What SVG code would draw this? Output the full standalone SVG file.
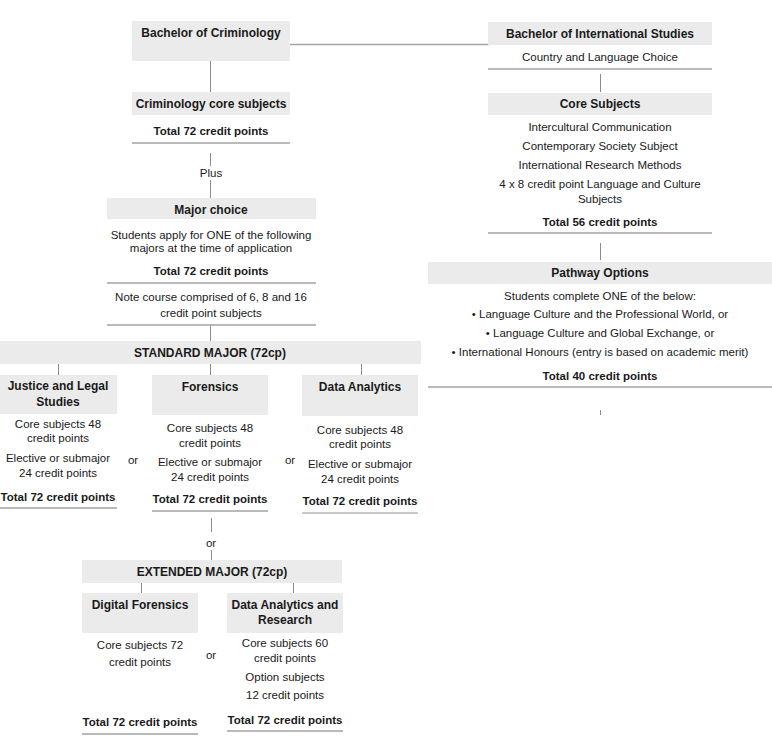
<svg xmlns="http://www.w3.org/2000/svg" width="772" height="745" viewBox="0 0 772 745">
<style>
.box{fill:#ebebeb}
.ln{stroke:#a3a3a3;stroke-width:1.3;fill:none}
.vl{stroke:#8c8c8c;stroke-width:1;fill:none}
text{font-family:"Liberation Sans",Arial,sans-serif;fill:#1a1a1a;text-anchor:middle}
.h{font-weight:bold;font-size:12px}
.t{font-weight:bold;font-size:11.5px}
.r{font-size:11.5px}
</style>
<rect width="772" height="745" fill="#ffffff"/>
<g id="connectors">
<line class="ln" x1="290" y1="44.5" x2="489" y2="44.5"/>
<line class="vl" x1="210.5" y1="61" x2="210.5" y2="92"/>
<line class="vl" x1="210.5" y1="153" x2="210.5" y2="166"/>
<line class="vl" x1="210.5" y1="180" x2="210.5" y2="198"/>
<line class="vl" x1="210.5" y1="325" x2="210.5" y2="341"/>
<line class="vl" x1="58.5" y1="364" x2="58.5" y2="375"/>
<line class="vl" x1="210.5" y1="364" x2="210.5" y2="375"/>
<line class="vl" x1="361.5" y1="364" x2="361.5" y2="375"/>
<line class="vl" x1="211.5" y1="518" x2="211.5" y2="532"/>
<line class="vl" x1="211.5" y1="550" x2="211.5" y2="565"/>
<line class="vl" x1="141.5" y1="583" x2="141.5" y2="593"/>
<line class="vl" x1="293.5" y1="583" x2="293.5" y2="593"/>
<line class="vl" x1="600.5" y1="74" x2="600.5" y2="92"/>
<line class="vl" x1="600.5" y1="243" x2="600.5" y2="260"/>
<line class="vl" x1="600.5" y1="410" x2="600.5" y2="415"/>
</g>
<g id="bachelor-criminology">
<rect class="box" x="132" y="21" width="158" height="40"/>
<text class="h" x="211" y="37">Bachelor of Criminology</text>
</g>
<g id="criminology-core">
<rect class="box" x="132" y="92" width="158" height="23"/>
<text class="h" x="211" y="108">Criminology core subjects</text>
<text class="t" x="211" y="135">Total 72 credit points</text>
<line class="ln" x1="132" y1="143" x2="290" y2="143"/>
</g>
<g id="plus">
<text class="r" x="211" y="177">Plus</text>
</g>
<g id="major-choice">
<rect class="box" x="107" y="198" width="209" height="21"/>
<text class="h" x="211" y="214">Major choice</text>
<text class="r" x="211" y="239">Students apply for ONE of the following</text>
<text class="r" x="211" y="252">majors at the time of application</text>
<text class="t" x="211" y="275">Total 72 credit points</text>
<line class="ln" x1="107" y1="283" x2="316" y2="283"/>
<text class="r" x="211" y="301">Note course comprised of 6, 8 and 16</text>
<text class="r" x="211" y="317">credit point subjects</text>
<line class="ln" x1="107" y1="325" x2="316" y2="325"/>
</g>
<g id="standard-major">
<rect class="box" x="0" y="341" width="421" height="23"/>
<text class="h" x="210" y="357">STANDARD MAJOR (72cp)</text>
</g>
<g id="justice">
<rect class="box" x="0" y="375" width="117" height="39"/>
<text class="h" x="58" y="390">Justice and Legal</text>
<text class="h" x="58" y="406">Studies</text>
<text class="r" x="58" y="428">Core subjects 48</text>
<text class="r" x="58" y="442">credit points</text>
<text class="r" x="58" y="462">Elective or submajor</text>
<text class="r" x="58" y="477">24 credit points</text>
<text class="t" x="58" y="501">Total 72 credit points</text>
<line class="ln" x1="0" y1="508" x2="117" y2="508"/>
</g>
<g id="or1"><text class="r" x="133" y="464">or</text></g>
<g id="forensics">
<rect class="box" x="152" y="375" width="116" height="40"/>
<text class="h" x="210" y="391">Forensics</text>
<text class="r" x="210" y="432">Core subjects 48</text>
<text class="r" x="210" y="447">credit points</text>
<text class="r" x="210" y="466">Elective or submajor</text>
<text class="r" x="210" y="481">24 credit points</text>
<text class="t" x="210" y="503">Total 72 credit points</text>
<line class="ln" x1="152" y1="511" x2="268" y2="511"/>
</g>
<g id="or2"><text class="r" x="290" y="464">or</text></g>
<g id="data-analytics">
<rect class="box" x="302" y="375" width="116" height="41"/>
<text class="h" x="360" y="391">Data Analytics</text>
<text class="r" x="360" y="434">Core subjects 48</text>
<text class="r" x="360" y="448">credit points</text>
<text class="r" x="360" y="468">Elective or submajor</text>
<text class="r" x="360" y="483">24 credit points</text>
<text class="t" x="360" y="505">Total 72 credit points</text>
<line class="ln" x1="302" y1="513" x2="418" y2="513" style="stroke:#c8c8c8;stroke-width:2"/>
</g>
<g id="or3"><text class="r" x="211" y="547">or</text></g>
<g id="extended-major">
<rect class="box" x="82" y="560" width="260" height="23"/>
<text class="h" x="212" y="576">EXTENDED MAJOR (72cp)</text>
</g>
<g id="digital-forensics">
<rect class="box" x="82" y="593" width="116" height="40"/>
<text class="h" x="140" y="609">Digital Forensics</text>
<text class="r" x="140" y="649">Core subjects 72</text>
<text class="r" x="140" y="666">credit points</text>
<text class="t" x="140" y="726">Total 72 credit points</text>
<line class="ln" x1="82" y1="734" x2="198" y2="734"/>
</g>
<g id="or4"><text class="r" x="211" y="659">or</text></g>
<g id="data-analytics-research">
<rect class="box" x="227" y="593" width="116" height="40"/>
<text class="h" x="285" y="609">Data Analytics and</text>
<text class="h" x="285" y="624">Research</text>
<text class="r" x="285" y="647">Core subjects 60</text>
<text class="r" x="285" y="662">credit points</text>
<text class="r" x="285" y="681">Option subjects</text>
<text class="r" x="285" y="699">12 credit points</text>
<text class="t" x="285" y="724">Total 72 credit points</text>
<line class="ln" x1="227" y1="731" x2="343" y2="731"/>
</g>
<g id="bachelor-international">
<rect class="box" x="488" y="22" width="224" height="23"/>
<text class="h" x="600" y="38">Bachelor of International Studies</text>
<text class="r" x="600" y="61">Country and Language Choice</text>
<line class="ln" x1="488" y1="69" x2="712" y2="69"/>
</g>
<g id="core-subjects">
<rect class="box" x="488" y="93" width="224" height="22"/>
<text class="h" x="600" y="108">Core Subjects</text>
<text class="r" x="600" y="131">Intercultural Communication</text>
<text class="r" x="600" y="150">Contemporary Society Subject</text>
<text class="r" x="600" y="169">International Research Methods</text>
<text class="r" x="600" y="188">4 x 8 credit point Language and Culture</text>
<text class="r" x="600" y="203">Subjects</text>
<text class="t" x="600" y="226">Total 56 credit points</text>
<line class="ln" x1="488" y1="233" x2="712" y2="233"/>
</g>
<g id="pathway-options">
<rect class="box" x="428" y="262" width="344" height="22"/>
<text class="h" x="600" y="277">Pathway Options</text>
<text class="r" x="600" y="300">Students complete ONE of the below:</text>
<text class="r" x="600" y="318">• Language Culture and the Professional World, or</text>
<text class="r" x="600" y="337">• Language Culture and Global Exchange, or</text>
<text class="r" x="600" y="356">• International Honours (entry is based on academic merit)</text>
<text class="t" x="600" y="380">Total 40 credit points</text>
<line class="ln" x1="428" y1="387" x2="772" y2="387"/>
</g>
</svg>
